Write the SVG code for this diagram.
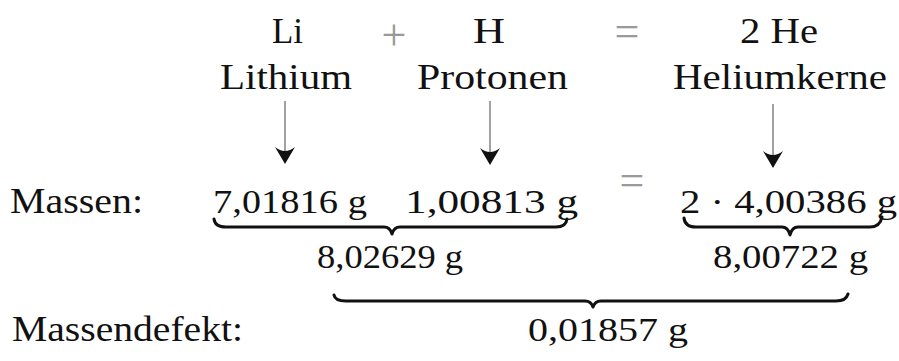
<svg xmlns="http://www.w3.org/2000/svg" width="899" height="361" viewBox="0 0 899 361">
  <style>
    text { font-family: "Liberation Serif", "Times New Roman", serif; font-size: 35px; fill: #111; }
    .num { font-size: 33px; }
    .op { fill: #999; font-size: 44px; }
    .line { stroke: #444; stroke-width: 1; fill: none; }
    .head { fill: #111; stroke: none; }
    .brace { stroke: #111; stroke-width: 3; fill: none; stroke-linecap: round; stroke-linejoin: round; }
  </style>
  <defs>
    <path id="ah" d="M0,0 L-10,-17 Q0,-9 10,-17 Z"/>
  </defs>
  <rect width="899" height="361" fill="#fff"/>

  <g id="li">
    <text x="272" y="43" textLength="31" lengthAdjust="spacingAndGlyphs">Li</text>
    <text x="220" y="89" textLength="132" lengthAdjust="spacingAndGlyphs">Lithium</text>
  </g>
  <g id="plus">
    <text class="op" x="394" y="50" text-anchor="middle">+</text>
  </g>
  <g id="h">
    <text x="473" y="43" textLength="32" lengthAdjust="spacingAndGlyphs">H</text>
    <text x="417" y="89" textLength="151" lengthAdjust="spacingAndGlyphs">Protonen</text>
  </g>
  <g id="eq1">
    <text class="op" x="627" y="46" text-anchor="middle">=</text>
  </g>
  <g id="he">
    <text x="740" y="43" textLength="78" lengthAdjust="spacingAndGlyphs">2 He</text>
    <text x="673" y="89" textLength="214" lengthAdjust="spacingAndGlyphs">Heliumkerne</text>
  </g>

  <g id="massen">
    <text x="10" y="213" textLength="133" lengthAdjust="spacingAndGlyphs">Massen:</text>
  </g>
  <g id="m-li">
    <text class="num" x="213" y="213" textLength="154" lengthAdjust="spacingAndGlyphs">7,01816 g</text>
  </g>
  <g id="m-h">
    <text class="num" x="405" y="213" textLength="173" lengthAdjust="spacingAndGlyphs">1,00813 g</text>
  </g>
  <g id="eq2">
    <text class="op" x="632" y="195" text-anchor="middle">=</text>
  </g>
  <g id="m-he">
    <text class="num" x="680" y="213" textLength="217" lengthAdjust="spacingAndGlyphs">2 · 4,00386 g</text>
  </g>
  <g id="sum-left">
    <text class="num" x="317" y="268" textLength="146" lengthAdjust="spacingAndGlyphs">8,02629 g</text>
  </g>
  <g id="sum-right">
    <text class="num" x="713" y="268" textLength="155" lengthAdjust="spacingAndGlyphs">8,00722 g</text>
  </g>
  <g id="defekt-label">
    <text x="12" y="341" textLength="231" lengthAdjust="spacingAndGlyphs">Massendefekt:</text>
  </g>
  <g id="defekt">
    <text class="num" x="528" y="341" textLength="160" lengthAdjust="spacingAndGlyphs">0,01857 g</text>
  </g>

  <g id="connectors">
    <line class="line" x1="285" y1="101" x2="285" y2="156"/>
    <use href="#ah" class="head" x="285" y="164"/>
    <line class="line" x1="490" y1="101" x2="490" y2="157"/>
    <use href="#ah" class="head" x="490" y="165"/>
    <line class="line" x1="773" y1="104" x2="773" y2="160"/>
    <use href="#ah" class="head" x="773" y="168"/>

    <path class="brace" d="M214,219 Q215,227 226,227 L384,227 Q390,227 392,234 Q394,227 400,227 L556,227 Q566,227 567,219"/>
    <path class="brace" d="M684,218 Q685,227 696,227 L782,227 Q788,227 790,235 Q792,227 798,227 L870,227 Q880,227 882,217"/>
    <path class="brace" d="M334,295 Q335,301 346,301 L585,301 Q591,301 593,307 Q595,301 601,301 L836,301 Q846,301 848,294"/>
  </g>
</svg>
